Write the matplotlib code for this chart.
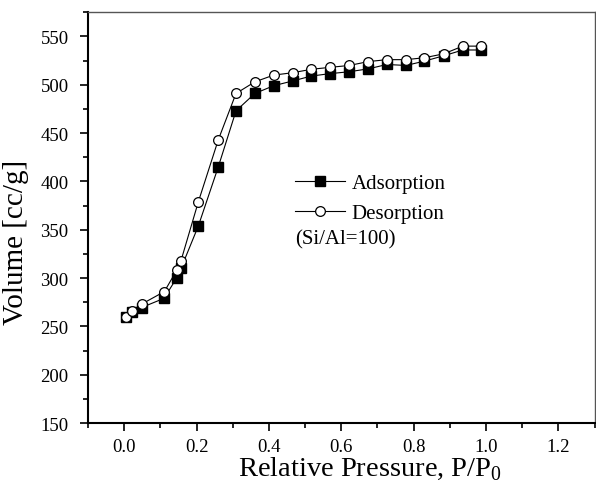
import numpy as np
import matplotlib
matplotlib.use('Agg')
import matplotlib.pyplot as plt
from matplotlib.ticker import MultipleLocator

# ── Data ──────────────────────────────────────
ads_x = [0.006, 0.022, 0.048, 0.110, 0.145, 0.157, 0.205, 0.260, 0.309, 0.361,
         0.413, 0.466, 0.517, 0.568, 0.622, 0.675, 0.726, 0.779, 0.830, 0.883,
         0.936, 0.985]
ads_y = [260, 265, 269.5, 279, 300, 310, 354, 415, 473, 491,
         499, 504, 509, 511.5, 513.5, 516.5, 521, 520, 524.5, 530,
         536, 536]

des_x = [0.006, 0.022, 0.048, 0.111, 0.145, 0.157, 0.205, 0.260, 0.309, 0.361,
         0.413, 0.466, 0.517, 0.568, 0.622, 0.675, 0.726, 0.779, 0.830, 0.883,
         0.936, 0.985]
des_y = [260, 266, 273, 286, 308, 318, 379, 443, 491, 503,
         510, 512.5, 516, 518, 520, 524, 526, 526, 528, 532,
         540, 540]

X_TICKS = [0.0, 0.2, 0.4, 0.6, 0.8, 1.0, 1.2]
Y_TICKS = [150, 200, 250, 300, 350, 400, 450, 500, 550]

plt.rcParams['font.family'] = ['Liberation Serif', 'DejaVu Serif']
plt.rcParams['mathtext.fontset'] = 'custom'
plt.rcParams['mathtext.rm'] = 'Liberation Serif'

fig = plt.figure(figsize=(5.96, 4.89), dpi=100)
ax = fig.add_axes([0.1477, 0.1329, 0.8498, 0.8399])

ax.plot(ads_x, ads_y, color='black', linewidth=0.8, marker='s',
        markersize=6.5, markerfacecolor='black', markeredgecolor='black',
        label='Adsorption', zorder=3)
ax.plot(des_x, des_y, color='black', linewidth=0.8, marker='o',
        markersize=7, markerfacecolor='white', markeredgecolor='black',
        markeredgewidth=0.9, label='Desorption', zorder=4)

ax.set_xlim(-0.1, 1.3)
ax.set_ylim(150, 575)
ax.set_xticks(X_TICKS)
ax.set_xticklabels([f'{t:.1f}' for t in X_TICKS])
ax.set_yticks(Y_TICKS)
ax.xaxis.set_minor_locator(MultipleLocator(0.1))
ax.yaxis.set_minor_locator(MultipleLocator(25))

ax.tick_params(which='both', direction='out', top=False, right=False,
               labelsize=13.5, width=1.2, color='black')
ax.tick_params(which='major', length=6, pad=5)
ax.tick_params(which='minor', length=3.5)
ax.tick_params(axis='y', which='major', pad=8)

for side in ['left', 'bottom']:
    ax.spines[side].set_linewidth(1.5)
    ax.spines[side].set_color('black')
for side in ['top', 'right']:
    ax.spines[side].set_linewidth(1.0)
    ax.spines[side].set_color('#555555')

ax.set_xlabel('Relative Pressure, P/P$_0$', fontsize=20.5)
ax.set_ylabel('Volume [cc/g]', fontsize=21)
ax.xaxis.set_label_coords(0.557, -0.077)
ax.yaxis.set_label_coords(-0.117, 0.443)

leg = ax.legend(loc='upper left', bbox_to_anchor=(0.392, 0.627), frameon=False,
                fontsize=15, handlelength=2.4, handletextpad=0.33,
                labelspacing=0.5, borderaxespad=0)
ax.text(0.409, 0.448, '(Si/Al=100)', transform=ax.transAxes,
        fontsize=15, ha='left', va='center')

fig.savefig('out.png', dpi=100)
plt.close(fig)
